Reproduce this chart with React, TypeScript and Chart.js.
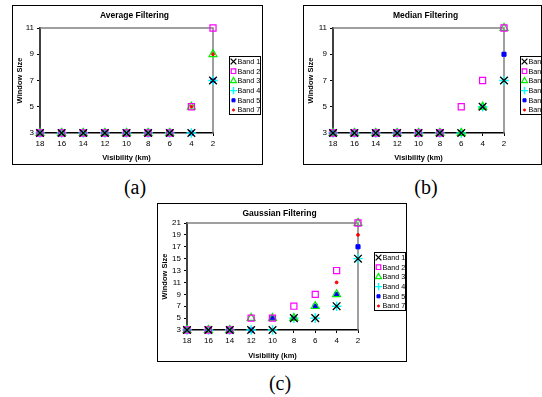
import React, { useEffect, useRef } from 'react';
import { Chart, registerables } from 'chart.js';
import { drawPoint } from 'chart.js/helpers';

Chart.register(...registerables);

// ---------- data ----------
const visibility = [18, 16, 14, 12, 10, 8, 6, 4, 2];
const bandLabels = ['Band 1', 'Band 2', 'Band 3', 'Band 4', 'Band 5', 'Band 7'];

const avgBand1 = [3, 3, 3, 3, 3, 3, 3, 3, 7];
const avgBand2 = [3, 3, 3, 3, 3, 3, 3, 5, 11];
const avgBand3 = [3, 3, 3, 3, 3, 3, 3, 5, 9];
const avgBand4 = [3, 3, 3, 3, 3, 3, 3, 3, 7];
const avgBand5 = [3, 3, 3, 3, 3, 3, 3, 3, 7];
const avgBand7 = [3, 3, 3, 3, 3, 3, 3, 5, 9];

const medBand1 = [3, 3, 3, 3, 3, 3, 3, 5, 7];
const medBand2 = [3, 3, 3, 3, 3, 3, 5, 7, 11];
const medBand3 = [3, 3, 3, 3, 3, 3, 3, 5, 11];
const medBand4 = [3, 3, 3, 3, 3, 3, 3, 5, 7];
const medBand5 = [3, 3, 3, 3, 3, 3, 3, 5, 9];
const medBand7 = [3, 3, 3, 3, 3, 3, 3, 5, 9];

const gauBand1 = [3, 3, 3, 3, 3, 5, 5, 7, 15];
const gauBand2 = [3, 3, 3, 5, 5, 7, 9, 13, 21];
const gauBand3 = [3, 3, 3, 5, 5, 5, 7, 9, 21];
const gauBand4 = [3, 3, 3, 3, 3, 5, 5, 7, 15];
const gauBand5 = [3, 3, 3, 3, 5, 5, 7, 9, 17];
const gauBand7 = [3, 3, 3, 3, 5, 5, 7, 11, 19];

const xMin = 2;
const xMax = 18;
const yMin = 3;
const yMaxSmall = 11;
const yMaxLarge = 21;
const tickStep = 2;

// ---------- styles ----------
const FONT = "'Liberation Sans', Arial, Helvetica, sans-serif";

const bandStyles = [
  { pointStyle: 'crossRot', radius: 5.4, color: '#000000', fill: false, width: 1.3 },
  { pointStyle: 'rect', radius: 4.3, color: '#ff00ff', fill: false, width: 1.2 },
  { pointStyle: 'triangle', radius: 4.6, color: '#00ee00', fill: false, width: 1.2 },
  { pointStyle: 'cross', radius: 4.8, color: '#00ffff', fill: false, width: 1.4 },
  { pointStyle: 'rect', radius: 2.9, color: '#0000ff', fill: true, width: 1 },
  { pointStyle: 'circle', radius: 1.4, color: '#ff0000', fill: true, width: 1 },
];

const framePlugin = {
  id: 'plotFrame',
  beforeDatasetsDraw(chart: any) {
    const { ctx, chartArea } = chart;
    const { left, right, top, bottom } = chartArea;
    ctx.save();
    ctx.strokeStyle = '#808080';
    ctx.lineWidth = 1.5;
    ctx.beginPath();
    ctx.moveTo(left, top);
    ctx.lineTo(right, top);
    ctx.lineTo(right, bottom);
    ctx.stroke();
    ctx.restore();
  },
};

const legendPlugin = {
  id: 'bandLegend',
  afterDraw(chart: any, _args: any, opts: any) {
    const { ctx, chartArea } = chart;
    const w = 31;
    const h = opts.height;
    const rowH = 9.7;
    const x = Math.round(chartArea.right + opts.gap);
    const y = opts.top;
    ctx.save();
    ctx.fillStyle = '#ffffff';
    ctx.fillRect(x, y, w, h);
    ctx.strokeStyle = '#000000';
    ctx.lineWidth = 1;
    ctx.strokeRect(x + 0.5, y + 0.5, w, h);
    chart.data.datasets.forEach((ds: any, i: number) => {
      const cy = y + 5.5 + rowH * i;
      ctx.strokeStyle = ds.borderColor;
      ctx.fillStyle = ds.backgroundColor;
      ctx.lineWidth = ds.pointBorderWidth;
      drawPoint(
        ctx,
        {
          pointStyle: ds.pointStyle,
          radius: ds.pointRadius * 0.75,
          borderWidth: ds.pointBorderWidth,
          rotation: 0,
        } as any,
        x + 4.5,
        cy
      );
      ctx.fillStyle = '#000000';
      ctx.font = `7.2px ${FONT}`;
      ctx.textBaseline = 'middle';
      ctx.textAlign = 'left';
      ctx.fillText(ds.label, x + 8.5, cy + 0.5);
    });
    ctx.restore();
  },
};

type PanelProps = {
  boxLeft: number;
  boxTop: number;
  boxWidth: number;
  boxHeight: number;
  canvasW: number;
  canvasH: number;
  title: string;
  series: number[][];
  yMax: number;
  yAxisW: number;
  xAxisH: number;
  titleTop: number;
  titleBottom: number;
  padRight: number;
  rightW: number;
  xTitleBottom: number;
  legendTop: number;
};

function Panel(p: PanelProps) {
  const ref = useRef<HTMLCanvasElement | null>(null);
  useEffect(() => {
    if (!ref.current) return;
    const tickFont = { family: FONT, size: 8 };
    const axisTitleFont = { family: FONT, size: 7.5, weight: 'bold' as const, lineHeight: 1.2 };
    const chart = new Chart(ref.current, {
      type: 'scatter',
      data: {
        datasets: p.series.map((vals, i) => {
          const st = bandStyles[i];
          return {
            label: bandLabels[i],
            data: visibility.map((x, j) => ({ x, y: vals[j] })),
            xAxisID: 'x',
            yAxisID: 'y',
            pointStyle: st.pointStyle as any,
            pointRadius: st.radius,
            pointHoverRadius: st.radius,
            borderColor: st.color,
            backgroundColor: st.fill ? st.color : 'rgba(0,0,0,0)',
            pointBorderWidth: st.width,
            borderWidth: st.width,
            clip: false as any,
          };
        }),
      },
      options: {
        animation: false,
        responsive: false,
        events: [],
        layout: { padding: { left: 0, right: p.padRight, top: 0, bottom: 0 } },
        plugins: {
          legend: { display: false },
          tooltip: { enabled: false },
          title: {
            display: true,
            text: p.title,
            color: '#000000',
            font: { family: FONT, size: 8.5, weight: 'bold', lineHeight: 1.2 },
            padding: { top: p.titleTop, bottom: p.titleBottom },
          },
          bandLegend: { gap: 16, top: p.legendTop, height: 58 },
        } as any,
        scales: {
          x: {
            type: 'linear',
            reverse: true,
            min: xMin,
            max: xMax,
            afterFit: (s: any) => {
              s.height = p.xAxisH;
            },
            ticks: { stepSize: tickStep, autoSkip: false, font: tickFont, color: '#000000', padding: 3, maxRotation: 0 },
            grid: { display: true, drawOnChartArea: false, drawTicks: true, tickLength: 3, color: '#000000' },
            border: { display: true, color: '#000000', width: 1.5 },
            title: {
              display: true,
              text: 'Visibility (km)',
              color: '#000000',
              font: axisTitleFont,
              padding: { top: 0, bottom: p.xTitleBottom },
            },
          },
          y: {
            type: 'linear',
            position: 'left',
            min: yMin,
            max: p.yMax,
            afterFit: (s: any) => {
              s.width = p.yAxisW;
            },
            ticks: { stepSize: tickStep, autoSkip: false, font: tickFont, color: '#000000', padding: 3 },
            grid: { display: true, drawOnChartArea: false, drawTicks: true, tickLength: 3, color: '#000000' },
            border: { display: true, color: '#404040', width: 2 },
            title: {
              display: true,
              text: 'Window Size',
              color: '#000000',
              font: axisTitleFont,
              padding: { top: 2, bottom: 0 },
            },
          },
          yR: {
            type: 'linear',
            position: 'right',
            display: true,
            afterFit: (s: any) => {
              s.width = p.rightW;
            },
            ticks: { display: false },
            grid: { display: false },
            border: { display: false },
          },
        } as any,
      },
      plugins: [framePlugin, legendPlugin],
    });
    return () => chart.destroy();
  }, []);

  return (
    <div
      style={{
        position: 'absolute',
        left: p.boxLeft,
        top: p.boxTop,
        width: p.boxWidth,
        height: p.boxHeight,
        border: '1px solid #000',
        boxSizing: 'border-box',
        overflow: 'hidden',
        background: '#fff',
      }}
    >
      <canvas
        ref={ref}
        width={p.canvasW}
        height={p.canvasH}
        style={{ display: 'block', width: p.canvasW, height: p.canvasH }}
      />
    </div>
  );
}

function Caption({ text, cx, cy }: { text: string; cx: number; cy: number }) {
  return (
    <div
      style={{
        position: 'absolute',
        left: cx - 30,
        top: cy - 11,
        width: 60,
        height: 22,
        lineHeight: '22px',
        textAlign: 'center',
        fontFamily: "'Liberation Serif', 'Times New Roman', serif",
        fontSize: 20,
        color: '#000',
      }}
    >
      {text}
    </div>
  );
}

export default function App() {
  return (
    <div
      style={{
        position: 'absolute',
        left: 0,
        top: 0,
        width: 542,
        height: 397,
        overflow: 'hidden',
        background: '#fff',
      }}
    >
      <Panel
        boxLeft={12}
        boxTop={5}
        boxWidth={251}
        boxHeight={160}
        canvasW={249}
        canvasH={158}
        title="Average Filtering"
        series={[avgBand1, avgBand2, avgBand3, avgBand4, avgBand5, avgBand7]}
        yMax={yMaxSmall}
        yAxisW={27}
        xAxisH={31}
        titleTop={4.4}
        titleBottom={7.4}
        padRight={6}
        rightW={43}
        xTitleBottom={1.5}
        legendTop={50}
      />
      <Panel
        boxLeft={303}
        boxTop={5}
        boxWidth={239}
        boxHeight={160}
        canvasW={249}
        canvasH={158}
        title="Median Filtering"
        series={[medBand1, medBand2, medBand3, medBand4, medBand5, medBand7]}
        yMax={yMaxSmall}
        yAxisW={29}
        xAxisH={31}
        titleTop={4.4}
        titleBottom={7.4}
        padRight={6}
        rightW={43}
        xTitleBottom={1.5}
        legendTop={50}
      />
      <Panel
        boxLeft={157}
        boxTop={203}
        boxWidth={250}
        boxHeight={159}
        canvasW={248}
        canvasH={157}
        title="Gaussian Filtering"
        series={[gauBand1, gauBand2, gauBand3, gauBand4, gauBand5, gauBand7]}
        yMax={yMaxLarge}
        yAxisW={29}
        xAxisH={31}
        titleTop={4.2}
        titleBottom={4.6}
        padRight={5}
        rightW={43}
        xTitleBottom={0.8}
        legendTop={48}
      />
      <Caption text="(a)" cx={135} cy={186.5} />
      <Caption text="(b)" cx={426} cy={186.5} />
      <Caption text="(c)" cx={280} cy={382.5} />
    </div>
  );
}
